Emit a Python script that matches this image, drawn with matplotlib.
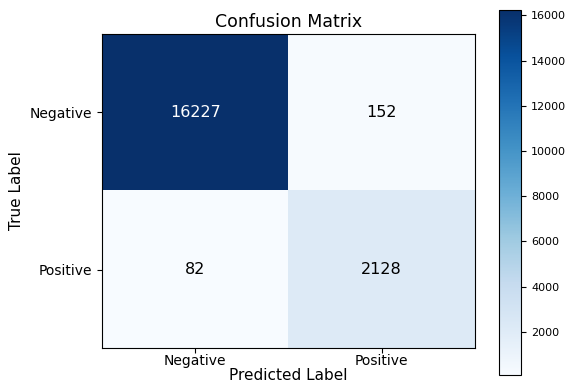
import numpy as np
import matplotlib
matplotlib.use("Agg")
import matplotlib.pyplot as plt

# Confusion matrix counts (rows: true, cols: predicted)
class_names = ["Negative", "Positive"]
cm = np.array([[16227, 152],
               [82, 2128]])

fig = plt.figure(figsize=(5.66, 3.82), dpi=100)
ax = fig.add_axes([0.180, 0.089, 0.659, 0.822])
cax = fig.add_axes([0.882, 0.018, 0.039, 0.955])

im = ax.imshow(cm, interpolation="nearest", cmap=plt.cm.Blues, aspect="auto")
cb = fig.colorbar(im, cax=cax)
cb.set_ticks(np.arange(2000, 16001, 2000))
cb.ax.tick_params(labelsize=8)

ax.set_title("Confusion Matrix", fontsize=12.5, pad=5)
ax.set_xticks(range(len(class_names)))
ax.set_yticks(range(len(class_names)))
ax.set_xticklabels(class_names, fontsize=10)
ax.set_yticklabels(class_names, fontsize=10)
ax.tick_params(axis="x", pad=1)
ax.set_xlabel("Predicted Label", fontsize=11, labelpad=-0.5)
ax.set_ylabel("True Label", fontsize=11)

thresh = cm.max() / 2.0
for i in range(cm.shape[0]):
    for j in range(cm.shape[1]):
        ax.text(j, i, format(cm[i, j], "d"), ha="center", va="center",
                fontsize=11.5, color="white" if cm[i, j] > thresh else "black")

fig.savefig("out.png", dpi=100)
